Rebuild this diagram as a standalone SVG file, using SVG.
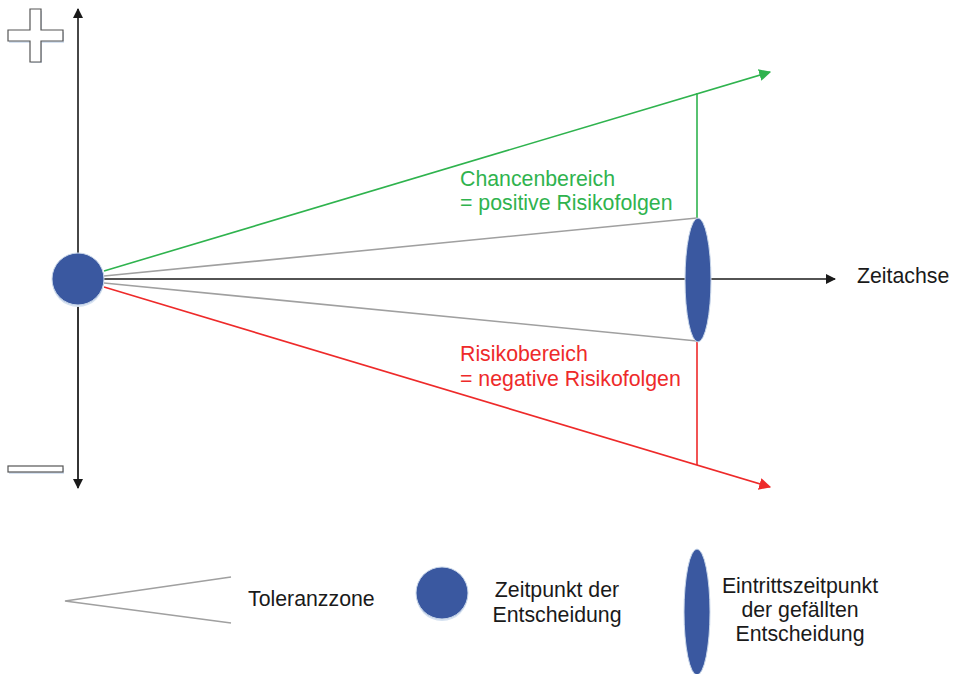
<svg xmlns="http://www.w3.org/2000/svg" width="955" height="674" viewBox="0 0 955 674">
  <defs>
    <marker id="ahBlack" viewBox="0 0 10 10" refX="9" refY="5" markerWidth="10" markerHeight="10" markerUnits="userSpaceOnUse" orient="auto">
      <path d="M0,0 L10,5 L0,10 Z" fill="#1a1a1a"/>
    </marker>
    <marker id="ahGreen" viewBox="0 0 10 10" refX="9" refY="5" markerWidth="12" markerHeight="12" markerUnits="userSpaceOnUse" orient="auto">
      <path d="M0,0 L10,5 L0,10 Z" fill="#2fb34e"/>
    </marker>
    <marker id="ahRed" viewBox="0 0 10 10" refX="9" refY="5" markerWidth="12" markerHeight="12" markerUnits="userSpaceOnUse" orient="auto">
      <path d="M0,0 L10,5 L0,10 Z" fill="#ee2a2a"/>
    </marker>
  </defs>
  <style>
    text { font-family: "Liberation Sans", Arial, sans-serif; font-size: 21.3px; fill: #1a1a1a; }
    .green { fill: #2fb34e; }
    .red { fill: #ee2a2a; }
    .node { fill: #3a58a0; stroke: #c9d7ea; stroke-width: 1; }
    .shadow { fill: #d6e2f1; }
    .sign { fill: #ffffff; stroke: #555555; stroke-width: 1.2; }
    .gray { stroke: #a0a0a0; stroke-width: 1.6; fill: none; }
    .axis { stroke: #333333; stroke-width: 1.8; fill: none; }
  </style>

  <!-- plus / minus signs -->
  <g id="plus">
    <path d="M31,11 H42 V32 H64 V43 H42 V63 H31 V43 H9 V32 H31 Z" fill="#d6e2f1"/>
    <path d="M30,9 H41 V30 H63 V41 H41 V62 H30 V41 H8 V30 H30 Z" class="sign"/>
  </g>
  <g id="minus">
    <rect x="9" y="468" width="55" height="6" fill="#d6e2f1"/>
    <rect x="8" y="466" width="55" height="6" class="sign"/>
  </g>

  <!-- connectors -->
  <g id="connectors">
    <line x1="78" y1="487" x2="78" y2="9" class="axis" marker-end="url(#ahBlack)"/>
    <line x1="78" y1="279" x2="78" y2="488" class="axis" marker-end="url(#ahBlack)"/>
    <line x1="104" y1="279" x2="835" y2="279" stroke="#1a1a1a" stroke-width="1.6" marker-end="url(#ahBlack)"/>
    <line x1="104" y1="271" x2="770" y2="72" stroke="#2fb34e" stroke-width="1.6" marker-end="url(#ahGreen)"/>
    <line x1="697" y1="93" x2="697" y2="218" stroke="#2fb34e" stroke-width="1.6"/>
    <line x1="104" y1="287" x2="770" y2="487" stroke="#ee2a2a" stroke-width="1.6" marker-end="url(#ahRed)"/>
    <line x1="697" y1="341" x2="697" y2="465" stroke="#ee2a2a" stroke-width="1.6"/>
    <line x1="104" y1="276" x2="697" y2="218" class="gray"/>
    <line x1="104" y1="283" x2="697" y2="341" class="gray"/>
  </g>

  <!-- decision point -->
  <g id="decision">
    <circle cx="78" cy="281" r="26" class="shadow"/>
    <circle cx="78" cy="279" r="26" class="node"/>
  </g>

  <!-- occurrence point -->
  <g id="occurrence">
    <ellipse cx="698" cy="280" rx="13" ry="62" class="node"/>
  </g>

  <!-- labels -->
  <g id="labels">
    <text x="460" y="186" class="green">Chancenbereich</text>
    <text x="460" y="210" class="green">= positive Risikofolgen</text>
    <text x="460" y="361" class="red">Risikobereich</text>
    <text x="460" y="386" class="red">= negative Risikofolgen</text>
    <text x="857" y="283">Zeitachse</text>
  </g>

  <!-- legend -->
  <g id="legend-tolerance">
    <polyline points="231,577 65,601 231,623" class="gray"/>
    <text x="248" y="606">Toleranzzone</text>
  </g>
  <g id="legend-decision">
    <circle cx="442" cy="595" r="26" class="shadow"/>
    <circle cx="442" cy="593" r="26" class="node"/>
    <text x="557" y="597" text-anchor="middle">Zeitpunkt der</text>
    <text x="557" y="622" text-anchor="middle">Entscheidung</text>
  </g>
  <g id="legend-occurrence">
    <ellipse cx="697" cy="612" rx="13" ry="63" class="node"/>
    <text x="800" y="593" text-anchor="middle">Eintrittszeitpunkt</text>
    <text x="800" y="617" text-anchor="middle">der gefällten</text>
    <text x="800" y="641" text-anchor="middle">Entscheidung</text>
  </g>
</svg>
